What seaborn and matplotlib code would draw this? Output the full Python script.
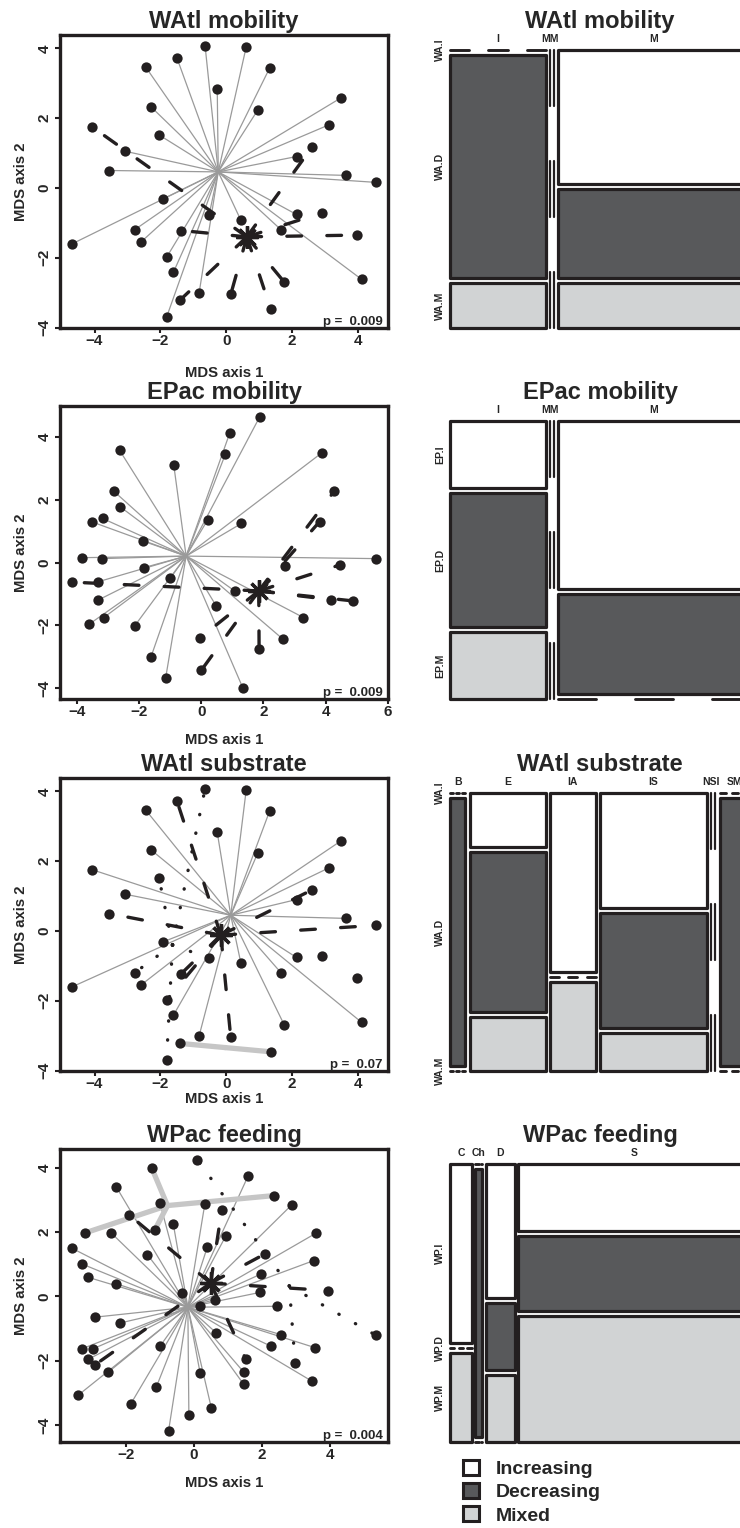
import numpy as np
import pandas as pd
import matplotlib
matplotlib.use("Agg")
import matplotlib.pyplot as plt
from matplotlib.patches import Rectangle, Patch
from matplotlib.ticker import MultipleLocator
import seaborn as sns

# ---------------- data ----------------
# MDS scores, western Atlantic species (mobility + substrate panels)
watl_x = [-0.64, 0.61, -1.49, -2.45, 1.32, -0.27, 3.49, -2.28, 0.96, -4.09,
          3.13, -2.04, 2.62, -3.06, 2.14, -3.56, 3.64, 4.55, -1.91, 2.14,
          2.92, -0.52, 0.45, -2.77, -1.36, 1.66, -2.59, -4.68, 3.99, -1.80,
          -1.60, 1.77, 4.12, -0.82, 0.14, -1.41, 1.35, -1.81]
watl_y = [4.07, 4.04, 3.71, 3.47, 3.43, 2.82, 2.58, 2.32, 2.23, 1.76,
          1.81, 1.52, 1.18, 1.05, 0.90, 0.50, 0.36, 0.16, -0.31, -0.76,
          -0.71, -0.78, -0.93, -1.19, -1.22, -1.19, -1.55, -1.60, -1.35, -1.97,
          -2.41, -2.70, -2.62, -3.00, -3.05, -3.22, -3.46, -3.70]
# spider group of each species, coded by line style
# s = grey solid, d = dashed, o = dotted, t = thick grey, n = no spider
watl_mob_grp = list("sssssssssd" "ssdsssssss" "dsssdsssds" "sdssddds")
watl_sub_grp = list("osdsssssss" "sodssdsdss" "nosodsssnd" "ssssdtto")

# MDS scores, eastern Pacific
epac_x = [1.88, 0.91, 0.77, 3.89, -2.63, -0.89, -2.82, 4.28, -2.61, -3.52,
          -3.18, 0.20, 1.29, 3.81, -1.88, -3.84, -3.20, 5.62, 2.68, 4.47,
          -1.86, -4.16, -3.33, -1.00, 1.07, -3.34, 4.18, 4.90, 0.48, -3.14,
          -3.61, 3.29, -2.15, -0.03, 2.63, 1.86, -1.62, 0.00, -1.15, 1.34]
epac_y = [4.65, 4.12, 3.45, 3.51, 3.58, 3.13, 2.28, 2.28, 1.78, 1.30,
          1.41, 1.36, 1.25, 1.31, 0.69, 0.16, 0.13, 0.13, -0.10, -0.07,
          -0.16, -0.62, -0.61, -0.50, -0.90, -1.20, -1.18, -1.22, -1.38, -1.75,
          -1.96, -1.75, -2.02, -2.39, -2.44, -2.76, -3.00, -3.43, -3.68, -4.00]
epac_mob_grp = list("sssssssdss" "sssdssssdd" "sdssssddss" "sssdsdsdss")

# MDS scores, western Pacific
wpac_x = [0.10, -1.25, 1.60, -2.29, 2.36, -1.00, 0.32, 0.82, 2.88, -1.91,
          -3.21, -2.45, -1.15, -0.61, 0.93, 3.61, -3.59, 0.39, -1.37, 2.08,
          -3.29, 3.53, -3.12, 1.97, -2.29, 1.94, -0.34, 3.94, 0.62, 0.19,
          2.46, -2.93, -2.18, 0.66, 2.56, 5.36, -3.30, -2.97, -1.00, 2.27,
          3.58, -3.12, -2.93, 1.52, -2.53, 0.18, 1.47, 2.98, 3.48, 1.47,
          -3.42, -1.11, -1.86, 0.51, -0.15, -0.75]
wpac_y = [4.24, 4.00, 3.75, 3.40, 3.13, 2.89, 2.87, 2.69, 2.84, 2.53,
          1.97, 1.98, 2.07, 2.25, 1.86, 1.97, 1.49, 1.52, 1.29, 1.31,
          1.00, 1.11, 0.59, 0.69, 0.39, 0.12, 0.10, 0.18, -0.10, -0.29,
          -0.31, -0.65, -0.83, -1.14, -1.19, -1.21, -1.63, -1.63, -1.55, -1.55,
          -1.60, -1.96, -2.14, -1.94, -2.36, -2.38, -2.36, -2.07, -2.64, -2.74,
          -3.08, -2.82, -3.34, -3.46, -3.70, -4.19]
wpac_feed_grp = list("otsstssdsd" "tstssssssd" "sssssssdss" "sssssossss" "ssddsssoss" "ssssss")

# group centroids (asterisk marks the dashed group)
watl_mob_cent = {"s": (-0.24, 0.46), "d": (0.63, -1.40)}
epac_mob_cent = {"s": (-0.49, 0.21), "d": (1.85, -0.90)}
watl_sub_cent = {"s": (0.14, 0.45), "d": (-0.16, -0.12), "o": (-1.63, -0.40), "t": (-0.03, -3.34)}
wpac_feed_cent = {"s": (-0.18, -0.34), "d": (0.49, 0.41), "o": (2.81, 0.32), "t": (-0.78, 2.82)}

p_values = ["0.009", "0.009", "0.07", "0.004"]

# mosaic tables: rows = trend (Increasing, Decreasing, Mixed)
trend_codes = ["I", "D", "M"]
trend_names = ["Increasing", "Decreasing", "Mixed"]
watl_mob_cols = ["I", "MM", "", "M"]
watl_mob_counts = [[0, 5, 1], [0, 0, 0], [0, 0, 0], [6, 4, 2]]
epac_mob_cols = ["I", "MM", "", "M"]
epac_mob_counts = [[1, 2, 1], [0, 0, 0], [0, 0, 0], [5, 3, 0]]
watl_sub_cols = ["B", "E", "IA", "IS", "NSI", "", "SM"]
watl_sub_counts = [[0, 1, 0], [1, 3, 1], [2, 0, 1], [3, 3, 1], [0, 0, 0], [0, 0, 0], [0, 2, 0]]
wpac_feed_cols = ["C", "Ch", "D", "S"]
wpac_feed_counts = [[2, 0, 1], [0, 1, 0], [2, 1, 1], [8, 9, 15]]

# ---------------- style ----------------
sns.set_style("white")
plt.rcParams["font.family"] = ["Liberation Sans", "DejaVu Sans"]
plt.rcParams["font.weight"] = "bold"
plt.rcParams["axes.labelweight"] = "bold"

INK = "#231f20"
FILLS = ["#ffffff", "#58595b", "#d1d3d4"]
SPIDER = {
    "s": dict(color="#9a9a9a", lw=0.9, zorder=1),
    "t": dict(color="#c6c6c6", lw=3.8, zorder=1.5, solid_capstyle="round"),
    "o": dict(color=INK, lw=2.4, zorder=2, linestyle=(0, (0.1, 5.6)), dash_capstyle="round"),
    "d": dict(color=INK, lw=2.4, zorder=2, linestyle=(0, (4.4, 7.6)), dash_capstyle="round"),
}

W, H = 740, 1528
fig = plt.figure(figsize=(W / 100, H / 100), dpi=100)


def px_axes(x0, top, w, h):
    return fig.add_axes([x0 / W, 1 - (top + h) / H, w / W, h / H])


def spider_panel(ax, xs, ys, grp, cent, title, pval, xlab_off):
    df = pd.DataFrame({"x": xs, "y": ys, "grp": grp})
    for g, st in SPIDER.items():
        if g not in cent:
            continue
        cx, cy = cent[g]
        for px_, py_ in zip(df.x[df.grp == g], df.y[df.grp == g]):
            ax.plot([cx, px_], [cy, py_], **st)
    sns.scatterplot(data=df, x="x", y="y", color=INK, s=55, linewidth=0,
                    ax=ax, legend=False, zorder=5)
    cx, cy = cent["d"]
    ax.plot([cx], [cy], marker=(8, 2, 0), ms=16, mew=2.4, color=INK, zorder=6)
    # R-style 4% axis padding
    for vals, setter in ((df.x, ax.set_xlim), (df.y, ax.set_ylim)):
        r = vals.max() - vals.min()
        setter(vals.min() - 0.04 * r, vals.max() + 0.04 * r)
    ax.xaxis.set_major_locator(MultipleLocator(2))
    ax.yaxis.set_major_locator(MultipleLocator(2))
    for sp in ax.spines.values():
        sp.set_linewidth(2.4)
        sp.set_color(INK)
    ax.tick_params(direction="out", length=3.6, width=1.5, color=INK,
                   labelsize=11, left=True, bottom=True)
    ax.tick_params(axis="x", pad=0.5)
    ax.tick_params(axis="y", pad=2.5, labelrotation=90)
    for t in ax.get_yticklabels():
        t.set_va("center")
    ax.set_xlabel("MDS axis 1", fontsize=10.7)
    ax.set_ylabel("MDS axis 2", fontsize=10.7)
    ax.xaxis.set_label_coords(0.5, -xlab_off / LEFT_H)
    ax.yaxis.set_label_coords(-32 / LEFT_W, 0.5)
    ax.text(0.5, 1 + 7 / LEFT_H, title, transform=ax.transAxes, ha="center",
            va="baseline", fontsize=17)
    ax.text(1 - 5 / LEFT_W, 3 / LEFT_H, "p =  " + pval, transform=ax.transAxes,
            ha="right", va="baseline", fontsize=9.5)


def zero_line(ax, x0, y0, x1, y1, lw):
    t = np.linspace(0, 1, 6)
    xs = x0 + (x1 - x0) * t
    ys = y0 + (y1 - y0) * t
    for k in (0, 2, 4):
        ax.plot(xs[k:k + 2], ys[k:k + 2], color=INK, lw=lw,
                solid_capstyle="round", clip_on=False)


def mosaic_panel(ax, cols, counts, prefix, hgap_px, title):
    counts = np.asarray(counts, float)
    ax.set_xlim(0, 1)
    ax.set_ylim(0, 1)
    ax.axis("off")
    hgap = hgap_px / MOS_W
    vgap = 5 / MOS_H
    unit = (1 - hgap * (len(cols) - 1)) / counts.sum()
    x = 0.0
    row_y = None
    for j, name in enumerate(cols):
        tot = counts[j].sum()
        w = tot * unit
        if tot == 0:
            zero_line(ax, x, 0, x, 1, lw=1.6)
        else:
            vunit = (1 - vgap * (len(trend_codes) - 1)) / tot
            y = 1.0
            mids = []
            for i in range(len(trend_codes)):
                h = counts[j, i] * vunit
                if h == 0:
                    zero_line(ax, x, y, x + w, y, lw=2.1)
                else:
                    ax.add_patch(Rectangle((x, y - h), w, h, facecolor=FILLS[i],
                                           edgecolor=INK, lw=2.3, joinstyle="round",
                                           clip_on=False))
                mids.append(y - h / 2)
                y -= h + vgap
            if row_y is None:
                row_y = mids
        if name:
            ax.text(x + w / 2, 1 + 11 / MOS_H, name, ha="center", va="center",
                    fontsize=7.5)
        x += w + hgap
    for code, yc in zip(trend_codes, row_y):
        ax.text(-10 / MOS_W, yc, prefix + "." + code, rotation=90, ha="center",
                va="center", fontsize=7.5)
    ax.text(0.5, 1 + 22 / MOS_H, title, transform=ax.transAxes, ha="center",
            va="baseline", fontsize=17)


LEFT_X0, LEFT_W, LEFT_H = 60, 328, 293
MOS_X0, MOS_W, MOS_H = 450, 300, 278
tops = [35, 406, 778, 1149]
xlab_offs = [38, 34, 21, 34]

panels = [
    (watl_x, watl_y, watl_mob_grp, watl_mob_cent, "WAtl mobility",
     watl_mob_cols, watl_mob_counts, "WA", 3.9),
    (epac_x, epac_y, epac_mob_grp, epac_mob_cent, "EPac mobility",
     epac_mob_cols, epac_mob_counts, "EP", 3.9),
    (watl_x, watl_y, watl_sub_grp, watl_sub_cent, "WAtl substrate",
     watl_sub_cols, watl_sub_counts, "WA", 4.3),
    (wpac_x, wpac_y, wpac_feed_grp, wpac_feed_cent, "WPac feeding",
     wpac_feed_cols, wpac_feed_counts, "WP", 3.3),
]

for k, (xs, ys, grp, cent, title, cols, counts, prefix, hg) in enumerate(panels):
    ax = px_axes(LEFT_X0, tops[k], LEFT_W, LEFT_H)
    spider_panel(ax, xs, ys, grp, cent, title, p_values[k], xlab_offs[k])
    axm = px_axes(MOS_X0, tops[k] + 15, MOS_W, MOS_H)
    mosaic_panel(axm, cols, counts, prefix, hg, title)

handles = [Patch(facecolor=c, edgecolor=INK, lw=2.2, label=n)
           for c, n in zip(FILLS, trend_names)]
fig.legend(handles=handles, loc="upper left", bbox_to_anchor=(463 / W, 1 - 1460 / H),
           frameon=False, fontsize=14, handlelength=0.82, handleheight=0.82,
           handletextpad=0.85, labelspacing=0.25, borderpad=0, borderaxespad=0)

fig.savefig("out.png", dpi=100)
